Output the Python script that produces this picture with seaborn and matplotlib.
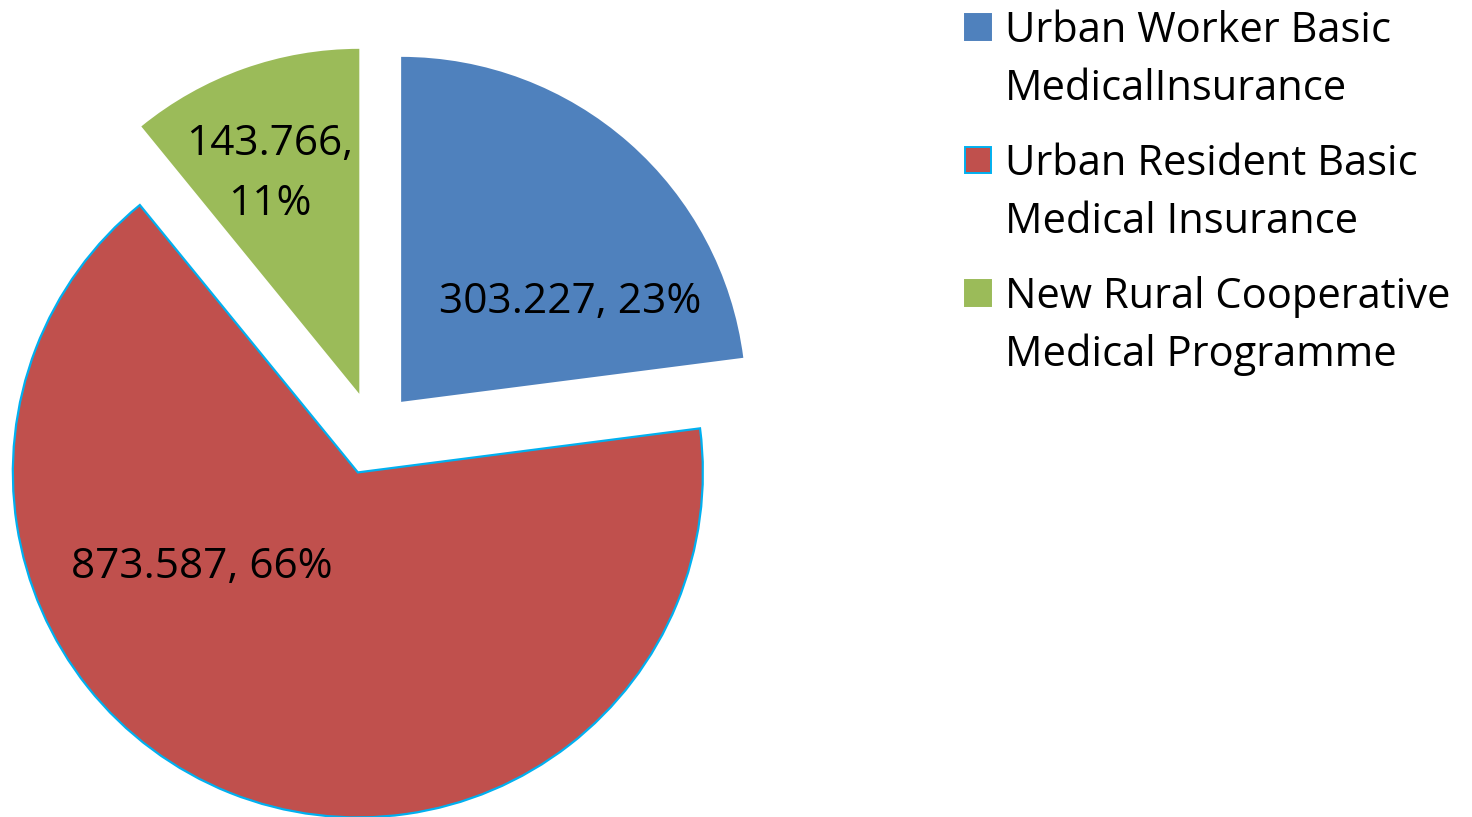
import matplotlib
matplotlib.use("Agg")
import matplotlib.pyplot as plt
import seaborn as sns
from matplotlib.patches import Rectangle

# ----------------------------------------------------------
# DATA
# ----------------------------------------------------------
categories = [
    "Urban Worker Basic\nMedicalInsurance",
    "Urban Resident Basic\nMedical Insurance",
    "New Rural Cooperative\nMedical Programme",
]
values = [303.227, 873.587, 143.766]
colors = ["#4F81BD", "#C0504D", "#9BBB59"]

# ----------------------------------------------------------
# STYLE
# ----------------------------------------------------------
sns.set_theme(style="white")
plt.rcParams["font.family"] = ["Open Sans", "DejaVu Sans"]

W, H = 1472, 817
fig = plt.figure(figsize=(W / 100, H / 100), dpi=100)
ax = fig.add_axes([0, 0, 1, 1])

# pie in pixel-like data coordinates (y up)
cx, cy = 373.4, H - 433.4
R = 345
wedges, _ = ax.pie(
    values,
    colors=colors,
    startangle=90,
    counterclock=False,
    center=(cx, cy),
    radius=R,
    explode=[42] * len(values),
    wedgeprops={"linewidth": 0},
)
wedges[1].set_edgecolor("#00B0F0")
wedges[1].set_linewidth(1.6)

ax.set_xlim(0, W)
ax.set_ylim(0, H)
ax.set_aspect("equal")
ax.axis("off")

# ----------------------------------------------------------
# DATA LABELS
# ----------------------------------------------------------
total = sum(values)
pcts = [round(v / total * 100) for v in values]
label_pos = [(570, 302), (202, 567), (270, 174)]
label_text = [
    f"{values[0]:.3f}, {pcts[0]}%",
    f"{values[1]:.3f}, {pcts[1]}%",
    f"{values[2]:.3f},\n{pcts[2]}%",
]
for (x, y), txt in zip(label_pos, label_text):
    ax.text(x, H - y, txt, ha="center", va="center", fontsize=30.5,
            color="black", linespacing=1.55)

# ----------------------------------------------------------
# LEGEND (manual, Excel-like)
# ----------------------------------------------------------
for i, (lab, col) in enumerate(zip(categories, colors)):
    y0 = 27 + 133 * i
    ec = "#00B0F0" if i == 1 else col
    ax.add_patch(Rectangle((965, H - y0 - 13), 26, 26, facecolor=col,
                           edgecolor=ec, linewidth=1.4))
    for j, line in enumerate(lab.split("\n")):
        ax.text(1005, H - (y0 + 4 + 58 * j), line, ha="left", va="center",
                fontsize=30, color="black")

fig.savefig("out.png", dpi=100)
